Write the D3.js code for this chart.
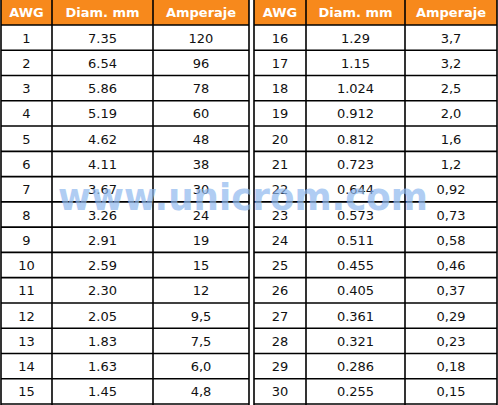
<!DOCTYPE html>
<html><head><meta charset="utf-8">
<script src="https://cdn.jsdelivr.net/npm/d3@7"></script>
<style>body{margin:0;background:#fff}</style>
</head><body>
<script>
// AWG wire table, two halves side by side
var headers = ["AWG", "Diam. mm", "Amperaje"];
var awg = [1,2,3,4,5,6,7,8,9,10,11,12,13,14,15,16,17,18,19,20,21,22,23,24,25,26,27,28,29,30];
var diam = ["7.35","6.54","5.86","5.19","4.62","4.11","3.67","3.26","2.91","2.59","2.30","2.05","1.83","1.63","1.45",
            "1.29","1.15","1.024","0.912","0.812","0.723","0.644","0.573","0.511","0.455","0.405","0.361","0.321","0.286","0.255"];
var amp = ["120","96","78","60","48","38","30","24","19","15","12","9,5","7,5","6,0","4,8",
           "3,7","3,2","2,5","2,0","1,6","1,2","0,92","0,73","0,58","0,46","0,37","0,29","0,23","0,18","0,15"];

var W = 498, H = 405;
var svg = d3.select("body").append("svg").attr("width", W).attr("height", H);

// column edges for left and right half
var halves = [[1, 52, 153, 249], [254, 306, 405, 497]];
var headH = 25;
var y = d3.scaleLinear().domain([0, 15]).range([headH, 404]);

halves.forEach(function (cols, hi) {
    var g = svg.append("g");
    g.append("rect").attr("x", cols[0]).attr("y", 0).attr("width", cols[3] - cols[0]).attr("height", headH)
        .attr("fill", "#f7891c");
    headers.forEach(function (h, ci) {
        g.append("text").text(h)
            .attr("x", (cols[ci] + cols[ci + 1]) / 2).attr("y", 17)
            .attr("text-anchor", "middle").attr("fill", "#fff")
            .style("font", "bold 13px 'DejaVu Sans', Verdana, sans-serif");
    });
    for (var r = 0; r < 15; r++) {
        var i = hi * 15 + r;
        [awg[i], diam[i], amp[i]].forEach(function (v, ci) {
            g.append("text").text(v)
                .attr("x", (cols[ci] + cols[ci + 1]) / 2).attr("y", y(r + 0.5) + 5)
                .attr("text-anchor", "middle").attr("fill", "#111")
                .style("font", "13px 'DejaVu Sans', Verdana, sans-serif");
        });
        g.append("line").attr("x1", cols[0]).attr("x2", cols[3])
            .attr("y1", y(r + 1)).attr("y2", y(r + 1)).attr("stroke", "#000").attr("stroke-width", 1.6);
    }
    g.append("line").attr("x1", cols[0]).attr("x2", cols[3]).attr("y1", headH).attr("y2", headH)
        .attr("stroke", "#000").attr("stroke-width", 1.5);
    cols.forEach(function (cx) {
        g.append("line").attr("x1", cx).attr("x2", cx).attr("y1", 0).attr("y2", H)
            .attr("stroke", "#000").attr("stroke-width", 1.6);
    });
});

// watermark
svg.append("text").text("www.unicrom.com")
    .attr("x", 58).attr("y", 210).attr("textLength", 370).attr("lengthAdjust", "spacingAndGlyphs")
    .attr("fill", "#8fb8ee").attr("opacity", 0.7)
    .style("font", "bold 38px 'DejaVu Sans', Verdana, sans-serif");
</script>
</body></html>
